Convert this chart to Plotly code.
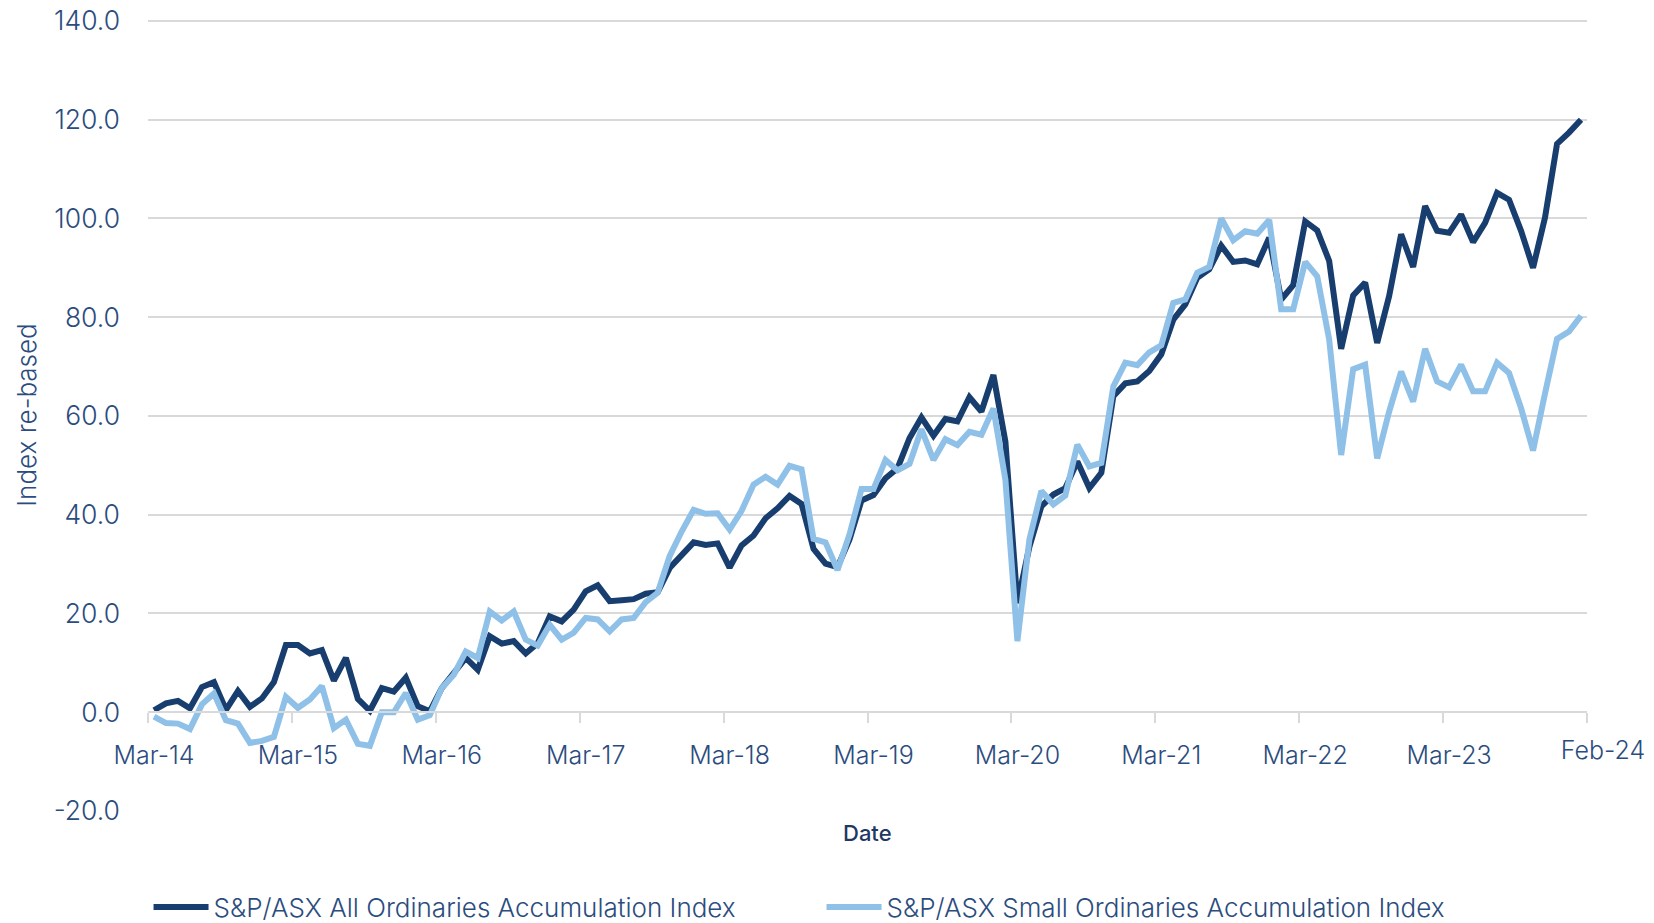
import pandas as pd
import plotly.graph_objects as go

months = list(pd.date_range("2014-03-01", periods=120, freq="MS").strftime("%b-%y"))

all_ords = [
    0.4, 1.8, 2.3, 0.8, 5.1, 6.1, 0.5, 4.3, 1.1, 2.8, 6.1, 13.6,
    13.6, 11.9, 12.6, 6.4, 11.0, 2.7, 0.3, 4.9, 4.2, 7.0, 1.2, 0.2,
    4.9, 8.0, 11.0, 8.6, 15.4, 13.9, 14.4, 11.9, 14.0, 19.4, 18.4, 20.8,
    24.5, 25.7, 22.5, 22.7, 22.9, 24.0, 24.3, 29.2, 31.6, 34.4, 33.9, 34.2,
    29.3, 33.8, 35.8, 39.3, 41.3, 43.8, 42.2, 33.1, 30.1, 29.4, 35.0, 42.9,
    44.0, 47.4, 49.4, 55.5, 59.7, 56.0, 59.4, 58.9, 63.8, 60.9, 68.3, 54.8,
    22.1, 33.5, 41.7, 44.1, 45.4, 50.8, 45.4, 48.5, 64.0, 66.6, 67.0, 69.1,
    72.5, 79.5, 82.6, 88.0, 89.7, 94.5, 91.2, 91.5, 90.7, 96.1, 83.6, 86.5,
    99.4, 97.6, 91.4, 73.6, 84.4, 87.0, 74.8, 84.3, 96.8, 90.2, 102.5, 97.5,
    97.1, 100.8, 95.2, 99.1, 105.2, 103.8, 97.5, 90.0, 100.2, 115.1, 117.4, 120.0,
]

small_ords = [
    -0.9, -2.2, -2.3, -3.4, 1.6, 3.8, -1.6, -2.3, -6.2, -5.8, -5.0, 3.1,
    0.9, 2.6, 5.3, -3.2, -1.5, -6.4, -6.8, 0.0, 0.0, 3.9, -1.5, -0.6,
    4.9, 7.6, 12.3, 11.0, 20.4, 18.6, 20.4, 14.7, 13.5, 17.7, 14.7, 16.1,
    19.1, 18.8, 16.4, 18.8, 19.1, 22.3, 24.2, 31.6, 36.6, 41.0, 40.2, 40.3,
    37.0, 40.8, 46.1, 47.7, 46.1, 49.9, 49.2, 35.1, 34.4, 28.8, 36.0, 45.2,
    45.2, 51.1, 49.0, 50.3, 57.3, 51.1, 55.3, 54.1, 56.8, 56.2, 61.5, 47.1,
    14.4, 35.0, 44.8, 42.1, 43.9, 54.2, 49.8, 50.5, 66.0, 70.8, 70.3, 72.9,
    74.3, 82.9, 83.6, 89.0, 90.2, 100.0, 95.6, 97.4, 96.9, 99.7, 81.6, 81.6,
    91.2, 88.3, 75.5, 52.1, 69.5, 70.4, 51.4, 60.9, 69.0, 62.9, 73.6, 67.0,
    65.8, 70.4, 65.0, 65.0, 70.8, 68.7, 61.6, 53.0, 64.6, 75.6, 77.1, 80.3,
]

y_ticks = [-20, 0, 20, 40, 60, 80, 100, 120, 140]

series_names = [
    "S&P/ASX All Ordinaries Accumulation Index",
    "S&P/ASX Small Ordinaries Accumulation Index",
]
y_title = "Index re-based"
x_title = "Date"

x_idx = list(range(len(months)))
label_idx = [i for i, m in enumerate(months) if m.startswith("Mar")]
label_txt = [months[i] for i in label_idx]
boundaries = [i - 0.5 for i in label_idx] + [len(months) - 0.5]

# small headroom so the top gridline is drawn inside the plot area
y_lo, y_hi = y_ticks[0], y_ticks[-1] + 0.4
x_axis_pos = (0 - y_lo) / (y_hi - y_lo)

TXT = "#2b4c7e"
GRID = "#d9d9d9"
FONT = "Inter"
TICKFONT = dict(family=FONT, size=25, color=TXT, weight=300)
YFONT = dict(family=FONT, size=26.5, color=TXT, weight=300)

W, H = 1654, 923

fig = go.Figure()
fig.add_trace(go.Scatter(x=x_idx, y=all_ords, mode="lines", name=series_names[0],
                         line=dict(color="#173e6e", width=6)))
fig.add_trace(go.Scatter(x=x_idx, y=small_ords, mode="lines", name=series_names[1],
                         line=dict(color="#8ec0e8", width=6)))
# invisible helper trace for the end label axis
fig.add_trace(go.Scatter(x=[x_idx[-1]], y=[all_ords[-1]], xaxis="x2", mode="markers",
                         marker=dict(opacity=0), showlegend=False, hoverinfo="skip"))

fig.update_layout(
    width=W, height=H,
    margin=dict(l=148, r=67, t=19, b=112, autoexpand=False),
    paper_bgcolor="white", plot_bgcolor="white",
    font=dict(family=FONT, color=TXT, size=25),
    xaxis=dict(
        range=[-0.5, len(months) - 0.5], anchor="free", position=x_axis_pos,
        tickmode="array", tickvals=label_idx, ticktext=label_txt, ticks="",
        ticklabelstandoff=21, automargin=False, ticklabeloverflow="allow",
        showgrid=False, showline=True, linecolor=GRID, linewidth=2, zeroline=False,
        tickfont=TICKFONT,
        minor=dict(tickmode="array", tickvals=boundaries, ticks="outside",
                   ticklen=10, tickwidth=2, tickcolor=GRID, showgrid=False),
    ),
    xaxis2=dict(
        range=[-0.5, len(months) - 0.5], overlaying="x", anchor="free", position=x_axis_pos,
        tickmode="array", tickvals=[x_idx[-1]], ticktext=[months[-1]], ticks="",
        ticklabelshift=22, ticklabelstandoff=21, automargin=False,
        ticklabeloverflow="allow",
        showgrid=False, showline=False, zeroline=False,
        tickfont=TICKFONT,
    ),
    yaxis=dict(
        range=[y_lo, y_hi], tickmode="array", tickvals=y_ticks,
        ticktext=[f"{v:.1f}" for v in y_ticks],
        showgrid=True, gridcolor=GRID, gridwidth=2, zeroline=False, ticks="",
        ticklabelstandoff=27, automargin=False, ticklabeloverflow="allow",
        tickfont=YFONT,
        title=dict(text=y_title, font=dict(family=FONT, size=26, color=TXT, weight=300),
                   standoff=9),
    ),
    legend=dict(
        orientation="h", xref="container", yref="container",
        x=0.0898, y=0.0173, xanchor="left", yanchor="middle",
        itemwidth=55, entrywidth=603,
        font=dict(family=FONT, size=26, color=TXT, weight=300),
        bgcolor="rgba(0,0,0,0)",
    ),
    showlegend=True,
    annotations=[dict(text=x_title, xref="paper", yref="paper", x=0.5, y=-0.028,
                      xanchor="center", yanchor="middle", showarrow=False,
                      font=dict(size=22, color="#1f3864", family=FONT, weight=500))],
)

fig.write_html("out.html",
               config={"displayModeBar": False},
               post_script="document.body.style.margin='0px';document.body.style.overflow='hidden';")
